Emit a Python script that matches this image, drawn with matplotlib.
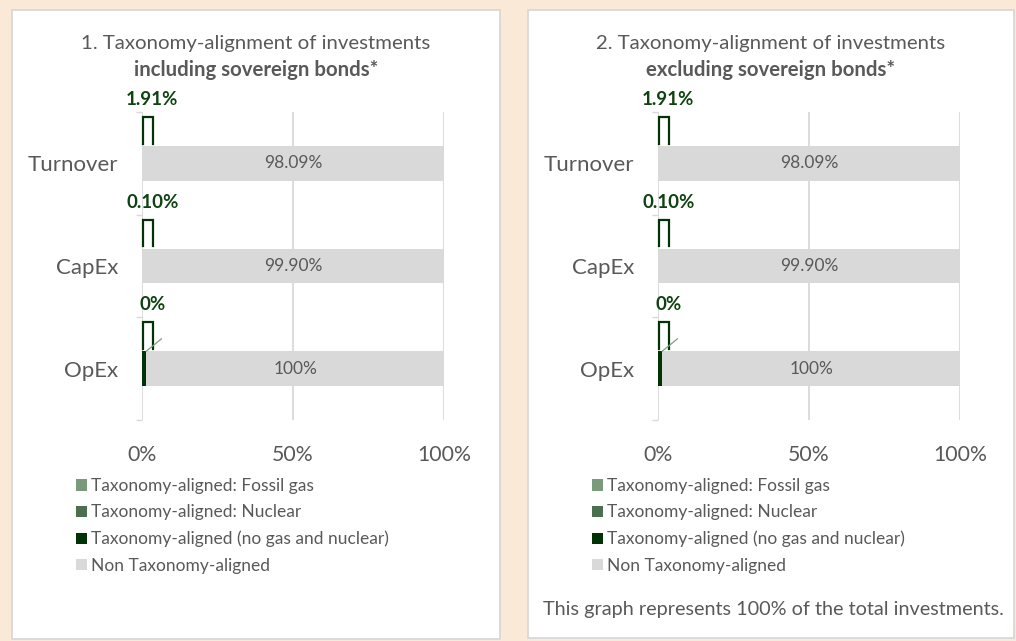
import matplotlib
matplotlib.use("Agg")
import matplotlib.pyplot as plt
from matplotlib.patches import Rectangle
import numpy as np

plt.rcParams['font.family'] = ['Lato', 'DejaVu Sans']

# ---------------- data ----------------
categories = ["Turnover", "CapEx", "OpEx"]
aligned_labels = ["1.91%", "0.10%", "0%"]          # green data labels
non_aligned_labels = ["98.09%", "99.90%", "100%"]  # grey data labels
fossil_gas = [0.0, 0.0, 0.0]
nuclear = [0.0, 0.0, 0.0]
aligned_no_gas_nuclear = [0.0, 0.0, 1.5]           # as drawn in the picture
non_aligned = [100.0, 100.0, 98.5]                 # as drawn in the picture
x_ticks = [0, 50, 100]
x_tick_labels = ["0%", "50%", "100%"]
series_names = ["Taxonomy-aligned: Fossil gas", "Taxonomy-aligned: Nuclear",
                "Taxonomy-aligned (no gas and nuclear)", "Non Taxonomy-aligned"]
panel_titles = [("1. Taxonomy-alignment of investments", "including sovereign bonds*"),
                ("2. Taxonomy-alignment of investments", "excluding sovereign bonds*")]
footnote = "This graph represents 100% of the total investments."

# ---------------- style ----------------
BG = "#FBE9D7"
GREY_TXT = "#595959"
GRID = "#D9D9D9"
C_GAS = "#7A9A7C"
C_NUC = "#4B704F"
C_DARK = "#023306"
C_NON = "#D9D9D9"
LBL_GREEN = "#0E4210"

W, H = 1016, 641
fig = plt.figure(figsize=(W / 100, H / 100), dpi=100, facecolor=BG)


def fx(px):
    return px / W


def fy(py):
    return 1 - py / H


panel_boxes = [(12, 10, 500, 639), (528, 10, 1014, 638)]
shifts = [0, 516]

for (x0, y0, x1, y1) in panel_boxes:
    fig.patches.append(Rectangle((fx(x0), fy(y1)), fx(x1 - x0), (y1 - y0) / H,
                                 transform=fig.transFigure, facecolor="white",
                                 edgecolor="#D6D6D6", linewidth=1.2, zorder=-10))

ypos = np.arange(len(categories))
bar_h = 0.34

for p, sh in enumerate(shifts):
    ax_left, ax_right, ax_top, ax_bot = 141.7 + sh, 444 + sh, 112, 420
    ax = fig.add_axes([fx(ax_left), fy(ax_bot), fx(ax_right - ax_left), (ax_bot - ax_top) / H])
    ax.set_facecolor("none")
    left = np.zeros(len(categories))
    handles = []
    for vals, col in [(fossil_gas, C_GAS), (nuclear, C_NUC),
                      (aligned_no_gas_nuclear, C_DARK), (non_aligned, C_NON)]:
        b = ax.barh(ypos, vals, left=left, height=bar_h, color=col, zorder=3)
        handles.append(b)
        left = left + np.array(vals)
    starts = np.array(fossil_gas) + np.array(nuclear) + np.array(aligned_no_gas_nuclear)
    for i in range(len(categories)):
        cx = starts[i] + non_aligned[i] / 2
        ax.text(cx, ypos[i], non_aligned_labels[i], ha="center", va="center",
                fontsize=12.5, color=GREY_TXT, zorder=5)
        # green data label + leader bracket
        top = ypos[i] - 0.5
        btop = ypos[i] - bar_h / 2
        ax.plot([0.5, 0.5, 3.6, 3.6], [btop - 0.02, top + 0.05, top + 0.05, btop - 0.02],
                color=C_DARK, lw=1.6, clip_on=False, zorder=6, solid_joinstyle="miter")
        ax.annotate(aligned_labels[i], (3.5, top), xytext=(0, 9), textcoords="offset points",
                    ha="center", va="center", fontsize=13.5, fontweight="bold",
                    color=LBL_GREEN, annotation_clip=False)
        if aligned_no_gas_nuclear[i] > 0:
            ax.plot([1.5, 6.5], [btop, btop - 0.12], color="#7FA07F", lw=0.9,
                    clip_on=False, zorder=6)

    ax.set_xlim(0, 100)
    ax.set_ylim(2.5, -0.5)
    ax.set_xticks(x_ticks)
    ax.set_xticklabels(x_tick_labels, fontsize=15.3, color=GREY_TXT)
    ax.set_yticks(ypos)
    ax.set_yticklabels(categories, fontsize=16, color=GREY_TXT)
    ax.set_yticks([-0.5, 0.5, 1.5, 2.5], minor=True)
    ax.tick_params(axis="y", which="major", length=0, pad=17)
    ax.tick_params(axis="y", which="minor", length=4, color=GRID, width=1)
    ax.tick_params(axis="x", length=0, pad=18)
    for s in ax.spines.values():
        s.set_visible(False)
    ax.grid(axis="x", color=GRID, linewidth=1.3, zorder=0)
    ax.set_axisbelow(True)

    # titles
    cxp = (panel_boxes[p][0] + panel_boxes[p][2]) / 2
    fig.text(fx(cxp), fy(44), panel_titles[p][0], ha="center", va="center",
             fontsize=14.7, color=GREY_TXT)
    fig.text(fx(cxp), fy(70), panel_titles[p][1], ha="center", va="center",
             fontsize=14.7, color=GREY_TXT, fontweight="bold")

    # legend
    fig.legend(handles, series_names, loc="upper left",
               bbox_to_anchor=(fx(76 + sh), fy(478)), frameon=False,
               fontsize=12.5, labelcolor=GREY_TXT, handlelength=0.62, handleheight=0.62,
               handletextpad=0.25, labelspacing=0.6, borderaxespad=0, borderpad=0)

fig.text(fx(543), fy(610), footnote, ha="left", va="center", fontsize=14.3, color=GREY_TXT)

fig.savefig("out.png", dpi=100, facecolor=BG)
